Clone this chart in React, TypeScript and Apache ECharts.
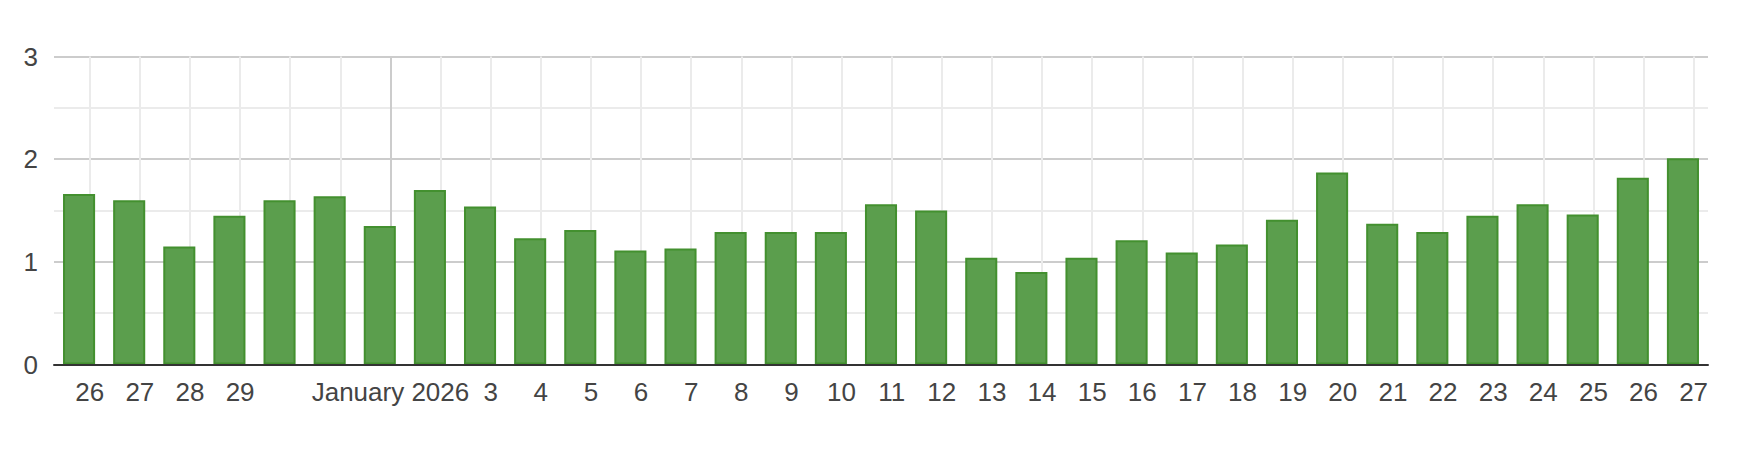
import React, { useEffect, useRef } from "react";
import * as echarts from "echarts";

// Days shown (Dec 26 2025 .. Jan 27 2026)
const days: string[] = [
  "2025-12-26", "2025-12-27", "2025-12-28", "2025-12-29", "2025-12-30", "2025-12-31",
  "2026-01-01", "2026-01-02", "2026-01-03", "2026-01-04", "2026-01-05", "2026-01-06",
  "2026-01-07", "2026-01-08", "2026-01-09", "2026-01-10", "2026-01-11", "2026-01-12",
  "2026-01-13", "2026-01-14", "2026-01-15", "2026-01-16", "2026-01-17", "2026-01-18",
  "2026-01-19", "2026-01-20", "2026-01-21", "2026-01-22", "2026-01-23", "2026-01-24",
  "2026-01-25", "2026-01-26", "2026-01-27",
];

// Tick labels as they appear under the axis (some hidden in the original)
const tickLabels: string[] = [
  "26", "27", "28", "29", "", "",
  "January 2026", "", "3", "4", "5", "6",
  "7", "8", "9", "10", "11", "12",
  "13", "14", "15", "16", "17", "18",
  "19", "20", "21", "22", "23", "24",
  "25", "26", "27",
];

const values: number[] = [
  1.66, 1.60, 1.15, 1.45, 1.60, 1.64,
  1.35, 1.70, 1.54, 1.23, 1.31, 1.11,
  1.13, 1.29, 1.29, 1.29, 1.56, 1.50,
  1.04, 0.90, 1.04, 1.21, 1.09, 1.17,
  1.41, 1.87, 1.37, 1.29, 1.45, 1.56,
  1.46, 1.82, 2.01,
];

const yTicks: number[] = [0, 1, 2, 3];

export default function App() {
  const ref = useRef<HTMLDivElement>(null);

  useEffect(() => {
    if (!ref.current) return;
    const chart = echarts.init(ref.current, undefined, { renderer: "svg" });
    const font = "Arial, 'Liberation Sans', sans-serif";
    // date ticks sit a bit to the right of the bar centres in the original
    const shift = 0.213;
    const idx = days.map((_, i) => i);
    const gridColors = days.map((d) => (d.endsWith("-01") ? "#cccccc" : "#ebebeb"));

    chart.setOption({
      animation: false,
      backgroundColor: "#ffffff",
      grid: { left: 54, right: 42, top: 56.5, bottom: 454 - 364.5, containLabel: false },
      xAxis: [
        {
          type: "category",
          position: "bottom",
          data: days,
          boundaryGap: true,
          z: 5,
          axisLine: { show: true, lineStyle: { color: "#333333", width: 2 } },
          axisTick: { show: false },
          axisLabel: { show: false },
          splitLine: { show: false },
        },
        {
          type: "value",
          position: "bottom",
          min: -0.5 - shift,
          max: days.length - 0.5 - shift,
          axisLine: { show: false },
          axisTick: { show: false, customValues: idx },
          axisLabel: {
            show: true,
            customValues: idx,
            formatter: (v: number) => tickLabels[Math.round(v)] ?? "",
            color: "#444444",
            fontSize: 26,
            fontFamily: font,
            margin: 14,
          },
          splitLine: { show: true, lineStyle: { color: gridColors, width: 2 } },
        },
      ],
      yAxis: {
        type: "value",
        min: yTicks[0],
        max: yTicks[yTicks.length - 1],
        interval: 1,
        axisLine: { show: false },
        axisTick: { show: false },
        minorTick: { show: false, splitNumber: 2 },
        minorSplitLine: { show: true, lineStyle: { color: "#ebebeb", width: 2 } },
        splitLine: { show: true, lineStyle: { color: "#cccccc", width: 2 } },
        axisLabel: {
          color: "#444444",
          fontSize: 26,
          fontFamily: font,
          margin: 16,
        },
      },
      series: [
        {
          type: "bar",
          xAxisIndex: 0,
          data: values,
          barWidth: "64%",
          itemStyle: {
            color: "#5b9e4d",
            borderColor: "#43902f",
            borderWidth: 2,
          },
        },
      ],
    });
    return () => chart.dispose();
  }, []);

  return (
    <div
      ref={ref}
      style={{ position: "fixed", left: 0, top: 0, width: 1750, height: 454 }}
    />
  );
}
